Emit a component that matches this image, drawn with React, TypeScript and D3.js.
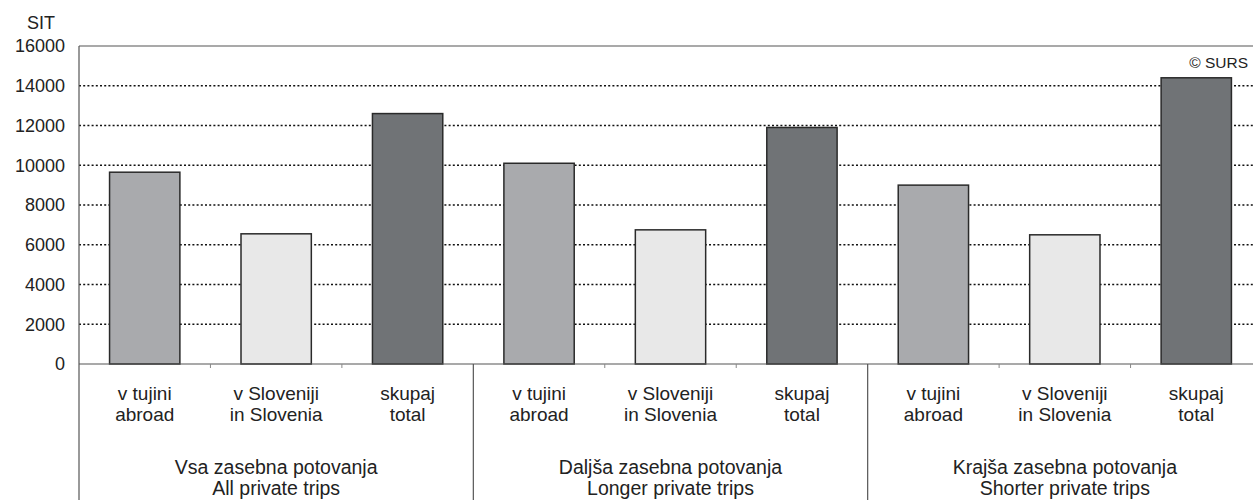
import React from "react";
import * as d3 from "d3";

const groupsSl = ["Vsa zasebna potovanja", "Daljša zasebna potovanja", "Krajša zasebna potovanja"];
const groupsEn = ["All private trips", "Longer private trips", "Shorter private trips"];
const catsSl = ["v tujini", "v Sloveniji", "skupaj"];
const catsEn = ["abroad", "in Slovenia", "total"];
const values = [
  [9650, 6550, 12600],
  [10100, 6750, 11900],
  [9000, 6500, 14400],
];
const yTicks = [0, 2000, 4000, 6000, 8000, 10000, 12000, 14000, 16000];
const fills = ["#a9aaad", "#e8e8e8", "#707376"];

export default function App() {
  const W = 1253, H = 500;
  const left = 79, right = 1262, top = 46, bottom = 364;
  const y = d3.scaleLinear().domain([0, 16000]).range([bottom, top]);
  const slots = d3.range(9);
  const x = d3.scaleBand<number>().domain(slots).range([left, right]).paddingInner(0).paddingOuter(0);
  const bw = x.bandwidth() * 0.535;
  const gx = d3.scaleBand<number>().domain([0, 1, 2]).range([left, right]);
  const font = "Liberation Sans, Arial, sans-serif";
  const txt = "#222";

  return (
    <div style={{ position: "absolute", left: 0, top: 0 }}>
      <svg width={W} height={H} style={{ display: "block", fontFamily: font }}>
        <rect width={W} height={H} fill="#fff" />
        {yTicks.filter(t => t > 0 && t < 16000).map(t => (
          <line key={t} x1={left} x2={right} y1={y(t)} y2={y(t)} stroke="#111" strokeWidth={1.6} strokeDasharray="2,2.2" />
        ))}
        <line x1={left} x2={right} y1={top} y2={top} stroke="#555" strokeWidth={1.2} />
        {values.map((g, gi) =>
          g.map((v, ci) => {
            const s = gi * 3 + ci;
            const cx = (x(s) as number) + x.bandwidth() / 2;
            return (
              <rect key={s} x={cx - bw / 2} y={y(v)} width={bw} height={y(0) - y(v)} fill={fills[ci]} stroke="#2a2a2a" strokeWidth={1.5} />
            );
          })
        )}
        <line x1={left} x2={right} y1={bottom} y2={bottom} stroke="#555" strokeWidth={1.2} />
        <line x1={left} x2={left} y1={top} y2={H} stroke="#555" strokeWidth={1.2} />
        {[1, 2].map(g => (
          <line key={g} x1={gx(g) as number} x2={gx(g) as number} y1={bottom} y2={H} stroke="#555" strokeWidth={1.2} />
        ))}
        {slots.filter(s => s % 3 !== 0).map(s => (
          <line key={s} x1={x(s) as number} x2={x(s) as number} y1={bottom} y2={bottom + 4} stroke="#888" strokeWidth={1} />
        ))}
        {yTicks.map(t => (
          <text key={t} x={65} y={y(t)} dy="0.35em" textAnchor="end" fontSize={18} fill={txt}>{t}</text>
        ))}
        <text x={41} y={29} textAnchor="middle" fontSize={18} fill={txt}>SIT</text>
        <text x={1248} y={68} textAnchor="end" fontSize={15.5} fill={txt}>© SURS</text>
        {slots.map(s => {
          const cx = (x(s) as number) + x.bandwidth() / 2;
          const ci = s % 3;
          return (
            <g key={s}>
              <text x={cx} y={400} textAnchor="middle" fontSize={19} fill={txt}>{catsSl[ci]}</text>
              <text x={cx} y={421} textAnchor="middle" fontSize={19} fill={txt}>{catsEn[ci]}</text>
            </g>
          );
        })}
        {groupsSl.map((g, gi) => {
          const cx = (gx(gi) as number) + gx.bandwidth() / 2;
          return (
            <g key={g}>
              <text x={cx} y={474} textAnchor="middle" fontSize={19.5} fill={txt}>{g}</text>
              <text x={cx} y={495} textAnchor="middle" fontSize={19.5} fill={txt}>{groupsEn[gi]}</text>
            </g>
          );
        })}
      </svg>
    </div>
  );
}
